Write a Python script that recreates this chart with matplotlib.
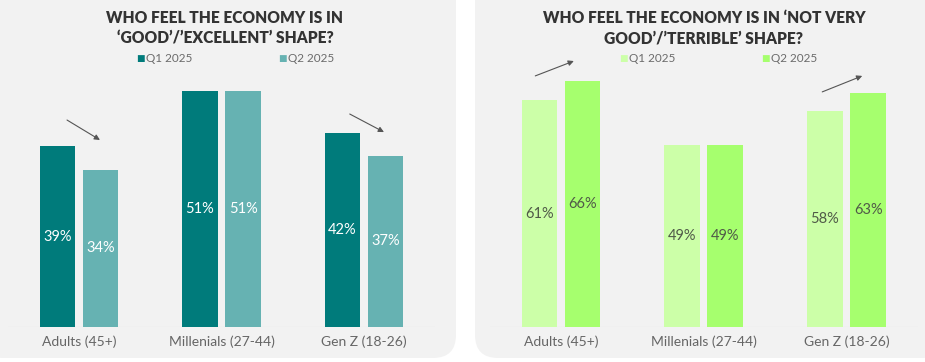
import matplotlib
matplotlib.use("Agg")
import matplotlib.pyplot as plt
from matplotlib.patches import FancyBboxPatch
import numpy as np

plt.rcParams['font.family'] = ['Lato', 'DejaVu Sans']

# data
categories = ['Adults (45+)', 'Millenials (27-44)', 'Gen Z (18-26)']
series_names = ['Q1 2025', 'Q2 2025']
good_q1 = [39, 51, 42]
good_q2 = [34, 51, 37]
bad_q1 = [61, 49, 58]
bad_q2 = [66, 49, 63]

title_good = "WHO FEEL THE ECONOMY IS IN\n\u2018GOOD\u2019/\u2019EXCELLENT\u2019 SHAPE?"
title_bad = "WHO FEEL THE ECONOMY IS IN \u2018NOT VERY\nGOOD\u2019/\u2019TERRIBLE\u2019 SHAPE?"

W, H = 925, 362
fig = plt.figure(figsize=(W / 100, H / 100), dpi=100, facecolor='white')


def px_box(x0, y0, x1, y1):
    # pixel box (top-left origin) -> figure fraction rect
    return [x0 / W, 1 - y1 / H, (x1 - x0) / W, (y1 - y0) / H]


# panel backgrounds
for x0, x1 in [(-20, 456), (475, 945)]:
    fig.patches.append(FancyBboxPatch((x0 / W, 4 / H), (x1 - x0) / W, (H + 20) / H,
                                      boxstyle="round,pad=0,rounding_size=0.025",
                                      transform=fig.transFigure, facecolor='#f2f2f2',
                                      edgecolor='none', zorder=-10,
                                      mutation_aspect=W / H))


def draw_panel(rect, ymax, v1, v2, c1, c2, label_color, arrows):
    ax = fig.add_axes(rect)
    ax.set_zorder(5)
    ax.set_facecolor('none')
    x = np.arange(len(categories))
    w = 0.25
    off = 0.151
    b1 = ax.bar(x - off, v1, w, color=c1, zorder=2)
    b2 = ax.bar(x + off, v2, w, color=c2, zorder=2)
    for bars in (b1, b2):
        for b in bars:
            h = b.get_height()
            ax.text(b.get_x() + b.get_width() / 2, h / 2, f"{h}%", ha='center', va='center',
                    color=label_color, fontsize=10.5, zorder=3)
    ax.axhline(0, color='#dcdcdc', lw=0.8, zorder=1)
    ax.set_xlim(-0.5, 2.5)
    ax.set_ylim(0, ymax)
    ax.set_xticks(x)
    ax.set_xticklabels(categories, fontsize=10, color='#666666')
    ax.tick_params(axis='x', length=0, pad=6)
    ax.set_yticks([])
    for s in ax.spines.values():
        s.set_visible(False)
    for (xa, ya), (xb, yb) in arrows:
        ax.annotate('', xy=(xb, yb), xytext=(xa, ya), annotation_clip=False,
                    arrowprops=dict(arrowstyle='-|>', color='#555555', lw=0.8,
                                    mutation_scale=8, shrinkA=0, shrinkB=0))
    return ax


# left panel: 1 group = 142.5 px, 4.63 px per %
draw_panel(px_box(7.75, 77, 435.25, 327), 250 / 4.63, good_q1, good_q2,
           '#007b7b', '#66b2b2', 'white',
           [((-0.084, 44.7), (0.147, 40.4)), ((1.90, 46.0), (2.14, 42.1))])

# right panel: 1 group = 142.75 px, 3.72 px per %
draw_panel(px_box(489.6, 77, 917.9, 327), 250 / 3.72, bad_q1, bad_q2,
           '#ccffa8', '#a6ff6e', '#505a48',
           [((-0.18, 67.5), (0.09, 71.5)), ((1.83, 63.2), (2.11, 67.5))])

# titles
fig.text(225 / W, 1 - 28 / H, title_good, ha='center', va='center', fontsize=11.2,
         fontweight='heavy', color='#333333', linespacing=1.35)
fig.text(704 / W, 1 - 28 / H, title_bad, ha='center', va='center', fontsize=11.2,
         fontweight='heavy', color='#333333', linespacing=1.35)

# legends
legend_pos = [((136, 278), ('#007b7b', '#66b2b2')), ((619, 761), ('#ccffa8', '#a6ff6e'))]
for xs, cols in legend_pos:
    for xp, col, name in zip(xs, cols, series_names):
        fig.text(xp / W, 1 - 58 / H, '\u25a0', ha='left', va='center', fontsize=6.5,
                 color=col, family='DejaVu Sans')
        fig.text((xp + 10) / W, 1 - 58 / H, name, ha='left', va='center', fontsize=8.5,
                 color='#6b6b6b')

fig.savefig('out.png', dpi=100, facecolor='white')
